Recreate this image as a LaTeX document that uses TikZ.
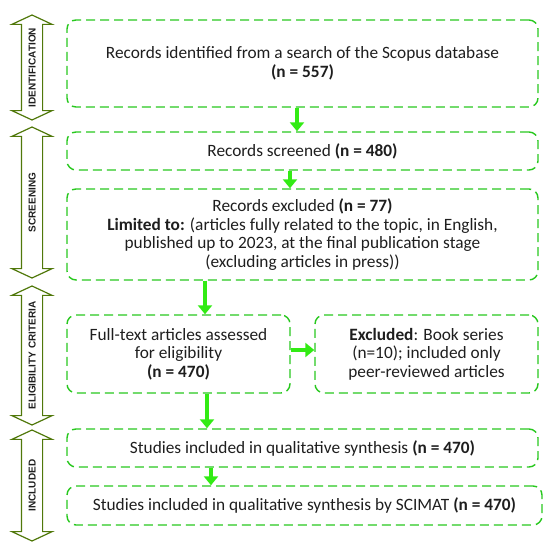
\documentclass[tikz,border=0pt]{standalone}
\usepackage{fontspec}
\setmainfont{Carlito}
\newfontfamily\sidefont{Liberation Sans}
\usetikzlibrary{shapes.arrows,arrows.meta}
\definecolor{boxgreen}{RGB}{40,200,30}
\definecolor{flowgreen}{RGB}{50,235,20}
\definecolor{sideolive}{RGB}{80,120,10}
\definecolor{txt}{RGB}{30,30,30}

\begin{document}
\begin{tikzpicture}[x=1pt,y=-1pt]
	\tikzstyle{every node}+=[inner sep=0pt, text=txt]
	\tikzstyle{box}=[draw=boxgreen, line width=1.4pt, dash pattern=on 9pt off 5pt, rounded corners=9pt, align=center, font=\fontsize{17.3}{18.5}\selectfont]
	\tikzstyle{phase}=[draw=sideolive, line width=1.2pt, fill=white, double arrow, double arrow head extend=9.5pt, double arrow tip angle=130, rotate=90, inner ysep=6.5pt, text height=7pt, text depth=0pt, font=\sidefont\bfseries\fontsize{10}{11}\selectfont]
	\tikzstyle{flow}=[draw=flowgreen, line width=4.5pt, -{Triangle[length=9pt,width=14pt]}]
	\useasboundingbox (0,0) rectangle (550,546);
	% stages
	\node [phase, minimum height=105pt] (pident) at (32,67.5) {IDENTIFICATION};
	\node [phase, minimum height=151pt] (pscreen) at (32,202.5) {SCREENING};
	\node [phase, minimum height=139pt] (pelig) at (32,355.5) {ELIGIBILITY CRITERIA};
	\node [phase, minimum height=111pt] (pincl) at (32,485.5) {INCLUDED};
	% boxes
	\node [box, minimum width=471pt, minimum height=87pt] (ident) at (302.5,63.5) {Records identified from a search of the Scopus database\\\textbf{(n = 557)}};
	\node [box, minimum width=471pt, minimum height=38pt] (screen) at (302.5,151) {Records screened \textbf{(n = 480)}};
	\node [box, minimum width=471pt, minimum height=91pt] (excl) at (302.5,234.5) {Records excluded \textbf{(n = 77)}\\\textbf{Limited to:} (articles fully related to the topic, in English,\\published up to 2023, at the final publication stage\\(excluding articles in press))};
	\node [box, minimum width=223pt, minimum height=78pt] (full) at (178.5,354) {Full-text articles assessed\\for eligibility\\\textbf{(n = 470)}};
	\node [box, minimum width=223pt, minimum height=78pt] (book) at (426.5,354) {\textbf{Excluded}: Book series\\(n=10); included only\\peer-reviewed articles};
	\node [box, minimum width=471pt, minimum height=38pt] (qual) at (302.5,448) {Studies included in qualitative synthesis \textbf{(n = 470)}};
	\node [box, minimum width=475pt, minimum height=39pt] (scimat) at (304.5,505.5) {Studies included in qualitative synthesis by SCIMAT \textbf{(n = 470)}};
	% arrows
	\draw [flow] (ident.south -| 297,0) -- (screen.north -| 297,0);
	\draw [flow] (screen.south -| 290,0) -- (excl.north -| 290,0);
	\draw [flow] (excl.south -| 205,0) -- (full.north -| 205,0);
	\draw [flow] (full.east |- 0,350) -- (book.west |- 0,350);
	\draw [flow] (full.south -| 207,0) -- (qual.north -| 207,0);
	\draw [flow] (qual.south -| 211,0) -- (scimat.north -| 211,0);
\end{tikzpicture}
\end{document}
